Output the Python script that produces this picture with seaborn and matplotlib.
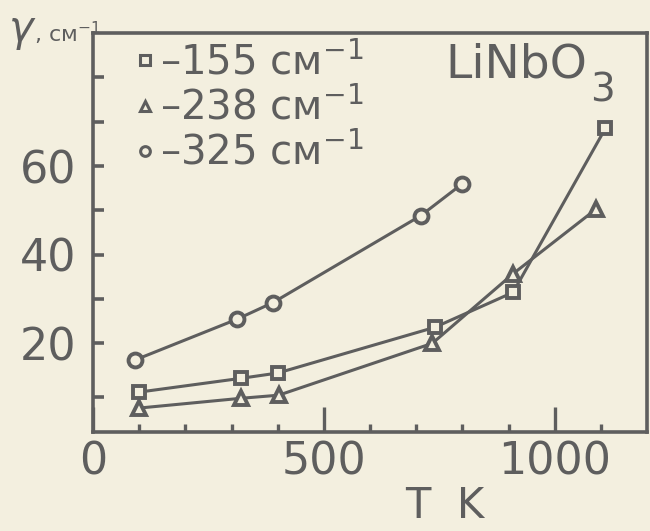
import matplotlib
matplotlib.use("Agg")
import matplotlib.pyplot as plt
import seaborn as sns
import pandas as pd
from matplotlib.lines import Line2D
from matplotlib.ticker import FixedLocator

# ---- data ----
T_155 = [100, 320, 400, 740, 910, 1110]
g_155 = [9.0, 12.1, 13.3, 23.6, 31.5, 68.5]
T_238 = [100, 320, 402, 735, 910, 1090]
g_238 = [5.4, 7.6, 8.3, 20.0, 35.7, 50.3]
T_325 = [90, 311, 390, 710, 800]
g_325 = [16.2, 25.4, 29.2, 48.8, 56.0]
series_labels = ["–155 см$^{-1}$", "–238 см$^{-1}$", "–325 см$^{-1}$"]
x_major = [0, 500, 1000]
x_major_labels = ["0", "500", "1000"]
x_minor = [100, 200, 300, 400, 600, 700, 800, 900, 1100]
y_major = [20, 40, 60]
y_minor = [8, 30, 50, 70, 80]

BG = "#f3efdf"
INK = "#5e5e5e"

sns.set_style("ticks")
plt.rcParams["font.family"] = ["DejaVu Sans"]
plt.rcParams["mathtext.fontset"] = "dejavusans"

fig = plt.figure(figsize=(6.5, 5.31), dpi=100, facecolor=BG)
ax = fig.add_axes([93/650, 1 - 432/531, 554/650, 399/531])
ax.set_facecolor(BG)

markers = ["s", "^", "o"]
for (T, g, m, ms) in [(T_155, g_155, "s", 9), (T_238, g_238, "^", 10), (T_325, g_325, "o", 10)]:
    df = pd.DataFrame({"T": T, "g": g})
    sns.lineplot(data=df, x="T", y="g", ax=ax, color=INK, lw=2.2, marker=m,
                 markersize=ms, markerfacecolor=BG, markeredgecolor=INK,
                 markeredgewidth=2.8, sort=False, legend=False)

ax.set_xlim(0, 1200)
ax.set_ylim(0, 90)
ax.set_xlabel("")
ax.set_ylabel("")

for s in ax.spines.values():
    s.set_color(INK)
    s.set_linewidth(2.6)

ax.xaxis.set_major_locator(FixedLocator(x_major))
ax.set_xticklabels(x_major_labels)
ax.xaxis.set_minor_locator(FixedLocator(x_minor))
ax.yaxis.set_major_locator(FixedLocator(y_major))
ax.set_yticklabels([str(v) for v in y_major])
ax.yaxis.set_minor_locator(FixedLocator(y_minor))

ax.tick_params(axis="x", which="major", direction="in", length=18, width=2.4,
               color=INK, labelcolor=INK, labelsize=32, pad=6, top=False)
ax.tick_params(axis="x", which="minor", direction="in", length=6, width=2.4,
               color=INK, top=False)
ax.tick_params(axis="y", which="both", direction="in", length=8, width=2.6,
               color=INK, labelcolor=INK, labelsize=32, pad=12, right=False)

# legend (markers only)
handles = [Line2D([], [], ls="none", marker=m, markersize=7, markerfacecolor=BG,
                  markeredgecolor=INK, markeredgewidth=2.2) for m in markers]
leg = ax.legend(handles, series_labels, loc="upper left", bbox_to_anchor=(0.045, 1.015),
                frameon=False, fontsize=29, handlelength=0.55, handletextpad=0.1,
                labelspacing=0.12, borderaxespad=0)
for t in leg.get_texts():
    t.set_color(INK)

ax.text(0.892, 0.975, "LiNbO", transform=ax.transAxes, ha="right", va="top",
        fontsize=34, color=INK)
ax.text(0.897, 0.855, "3", transform=ax.transAxes, ha="left", va="center",
        fontsize=28, color=INK)

fig.text(445/650, 1 - 506/531, "T  K", ha="center", va="center", fontsize=30, color=INK)
fig.text(8/650, 1 - 31/531, r"$\gamma$", ha="left", va="center", fontsize=30, color=INK)
fig.text(34/650, 1 - 33/531, ", см$^{-1}$", ha="left", va="center", fontsize=16, color=INK)

fig.savefig("out.png", dpi=100, facecolor=BG)
